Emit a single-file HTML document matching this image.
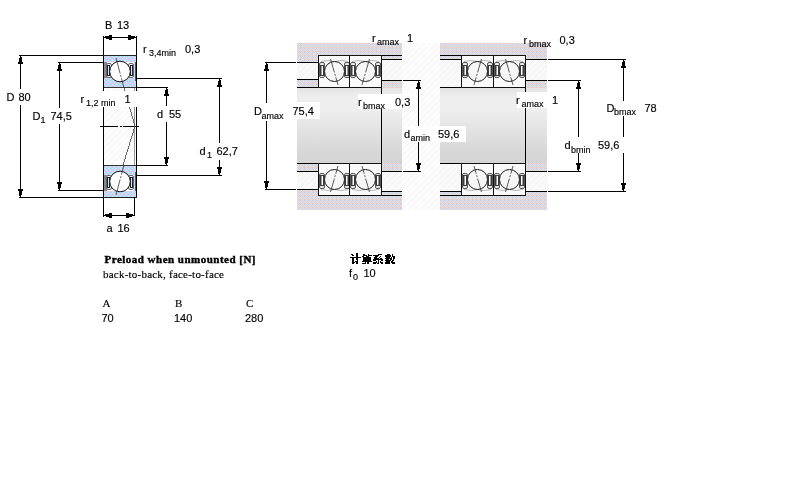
<!DOCTYPE html>
<html><head><meta charset="utf-8"><style>
html,body{margin:0;padding:0;background:#fff;width:800px;height:500px;overflow:hidden}
svg{position:absolute;left:0;top:0}
</style></head><body>
<svg width="800" height="500" viewBox="0 0 800 500" shape-rendering="crispEdges">

<defs>
<pattern id="ring" width="4" height="4" patternUnits="userSpaceOnUse">
  <rect width="4" height="4" fill="#d0d0f6"/>
  <rect x="0" y="0" width="1" height="1" fill="#c0f4f4"/>
  <rect x="2" y="2" width="1" height="1" fill="#c0f4f4"/>
  <rect x="2" y="0" width="1" height="1" fill="#b0d4f4"/>
  <rect x="0" y="2" width="1" height="1" fill="#c8c8f0"/>
</pattern>
<pattern id="gray" width="4" height="4" patternUnits="userSpaceOnUse">
  <rect width="4" height="4" fill="#d6d6d6"/>
  <rect x="1" y="0" width="1" height="1" fill="#e0e0e0"/>
  <rect x="3" y="0" width="1" height="1" fill="#e0e0e0"/>
  <rect x="0" y="1" width="1" height="1" fill="#e0e0e0"/>
  <rect x="2" y="1" width="1" height="1" fill="#e0e0e0"/>
  <rect x="1" y="2" width="1" height="1" fill="#e0e0e0"/>
  <rect x="3" y="2" width="1" height="1" fill="#e0e0e0"/>
  <rect x="2" y="3" width="1" height="1" fill="#e0e0e0"/>
  <rect x="0" y="3" width="1" height="1" fill="#f0c8cc"/>
  <rect x="0" y="0" width="1" height="1" fill="#c8c8f0"/>
</pattern>
<pattern id="light" width="6" height="6" patternUnits="userSpaceOnUse">
  <rect width="6" height="6" fill="#f9f9f9"/>
  <path d="M0 6 L6 0" stroke="#f3f3f3" stroke-width="1"/>
</pattern>
<pattern id="hatch" width="6" height="6" patternUnits="userSpaceOnUse">
  <rect width="6" height="6" fill="#fcfcfc"/>
  <path d="M0 6 L6 0" stroke="#f6f6f6" stroke-width="1"/>
</pattern>
<linearGradient id="shaftg" x1="0" y1="0" x2="0" y2="1">
  <stop offset="0" stop-color="#e4e4e4"/>
  <stop offset="0.12" stop-color="#eeeeee"/>
  <stop offset="0.3" stop-color="#eeeeee"/>
  <stop offset="0.55" stop-color="#e3e3e3"/>
  <stop offset="0.8" stop-color="#d9d9d9"/>
  <stop offset="1" stop-color="#d4d4d4"/>
</linearGradient>
<pattern id="shaft" width="105" height="75" patternUnits="userSpaceOnUse" x="0" y="88">
  <rect width="105" height="75" fill="url(#shaftg)"/>
</pattern>
</defs>

<rect width="800" height="500" fill="#fff"/>
<g>
<rect x="19" y="55" width="85" height="1" fill="#000" />
<rect x="19" y="197" width="85" height="1" fill="#000" />
<rect x="20" y="56" width="1" height="33" fill="#000" />
<rect x="20" y="105" width="1" height="92" fill="#000" />
<rect x="20" y="56" width="1" height="1" fill="#000" />
<rect x="20" y="57" width="2" height="1" fill="#000" />
<rect x="19" y="58" width="3" height="1" fill="#000" />
<rect x="19" y="59" width="3" height="1" fill="#000" />
<rect x="19" y="60" width="3" height="1" fill="#000" />
<rect x="19" y="61" width="3" height="1" fill="#000" />
<rect x="18" y="62" width="5" height="1" fill="#000" />
<rect x="18" y="63" width="5" height="1" fill="#000" />
<rect x="20" y="196" width="1" height="1" fill="#000" />
<rect x="19" y="195" width="2" height="1" fill="#000" />
<rect x="19" y="194" width="3" height="1" fill="#000" />
<rect x="19" y="193" width="3" height="1" fill="#000" />
<rect x="19" y="192" width="3" height="1" fill="#000" />
<rect x="19" y="191" width="3" height="1" fill="#000" />
<rect x="18" y="190" width="5" height="1" fill="#000" />
<rect x="18" y="189" width="5" height="1" fill="#000" />
<rect x="58" y="62" width="46" height="1" fill="#000" />
<rect x="58" y="190" width="46" height="1" fill="#000" />
<rect x="59" y="63" width="1" height="45" fill="#000" />
<rect x="59" y="124" width="1" height="66" fill="#000" />
<rect x="59" y="63" width="1" height="1" fill="#000" />
<rect x="59" y="64" width="2" height="1" fill="#000" />
<rect x="58" y="65" width="3" height="1" fill="#000" />
<rect x="58" y="66" width="3" height="1" fill="#000" />
<rect x="58" y="67" width="3" height="1" fill="#000" />
<rect x="58" y="68" width="3" height="1" fill="#000" />
<rect x="57" y="69" width="5" height="1" fill="#000" />
<rect x="57" y="70" width="5" height="1" fill="#000" />
<rect x="59" y="189" width="1" height="1" fill="#000" />
<rect x="58" y="188" width="2" height="1" fill="#000" />
<rect x="58" y="187" width="3" height="1" fill="#000" />
<rect x="58" y="186" width="3" height="1" fill="#000" />
<rect x="58" y="185" width="3" height="1" fill="#000" />
<rect x="58" y="184" width="3" height="1" fill="#000" />
<rect x="57" y="183" width="5" height="1" fill="#000" />
<rect x="57" y="182" width="5" height="1" fill="#000" />
<rect x="103" y="36" width="1" height="20" fill="#000" />
<rect x="136" y="36" width="1" height="20" fill="#000" />
<rect x="104" y="37" width="32" height="1" fill="#000" />
<rect x="104" y="37" width="1" height="1" fill="#000" />
<rect x="105" y="36" width="1" height="2" fill="#000" />
<rect x="106" y="36" width="3" height="3" fill="#000" />
<rect x="109" y="35" width="3" height="5" fill="#000" />
<rect x="135" y="37" width="1" height="1" fill="#000" />
<rect x="134" y="36" width="1" height="2" fill="#000" />
<rect x="131" y="36" width="3" height="3" fill="#000" />
<rect x="128" y="35" width="3" height="5" fill="#000" />
<rect x="104" y="88" width="32" height="77" fill="url(#hatch)" />
<rect x="103" y="55" width="1" height="162" fill="#000" />
<rect x="136" y="55" width="1" height="143" fill="#000" />
<rect x="134" y="88" width="1" height="78" fill="#999" />
<rect x="104" y="55" width="32" height="33" fill="url(#ring)" />
<g transform="translate(0,55)">
<rect x="105" y="7" width="29" height="16" fill="#fff" />
<rect x="104" y="7" width="3" height="16" fill="#8a8a8a" />
<rect x="106.5" y="8.5" width="5" height="14" rx="1.5" fill="#e8eef8" stroke="#666" stroke-width="1" shape-rendering="auto"/>
<rect x="107" y="10" width="3" height="11" fill="#222"/>
<rect x="108" y="11" width="1" height="9" fill="#cfe6ff"/>
<rect x="128.5" y="8.5" width="5" height="14" rx="1.5" fill="#e8eef8" stroke="#666" stroke-width="1" shape-rendering="auto"/>
<rect x="130" y="10" width="3" height="11" fill="#222"/>
<rect x="131" y="11" width="1" height="9" fill="#cfe6ff"/>
<circle cx="120" cy="16.5" r="10.3" fill="#fff" stroke="#111" stroke-width="1" shape-rendering="auto"/>
<line x1="116" y1="3" x2="124" y2="33" stroke="#333" stroke-width="0.8" stroke-dasharray="16 1.5 2 1.5 20" shape-rendering="auto"/>
</g>
<rect x="104" y="165" width="32" height="33" fill="url(#ring)" />
<g transform="translate(0,198) scale(1,-1)">
<rect x="105" y="7" width="29" height="16" fill="#fff" />
<rect x="104" y="7" width="3" height="16" fill="#8a8a8a" />
<rect x="106.5" y="8.5" width="5" height="14" rx="1.5" fill="#e8eef8" stroke="#666" stroke-width="1" shape-rendering="auto"/>
<rect x="107" y="10" width="3" height="11" fill="#222"/>
<rect x="108" y="11" width="1" height="9" fill="#cfe6ff"/>
<rect x="128.5" y="8.5" width="5" height="14" rx="1.5" fill="#e8eef8" stroke="#666" stroke-width="1" shape-rendering="auto"/>
<rect x="130" y="10" width="3" height="11" fill="#222"/>
<rect x="131" y="11" width="1" height="9" fill="#cfe6ff"/>
<circle cx="120" cy="16.5" r="10.3" fill="#fff" stroke="#111" stroke-width="1" shape-rendering="auto"/>
<line x1="116" y1="3" x2="124" y2="33" stroke="#333" stroke-width="0.8" stroke-dasharray="16 1.5 2 1.5 20" shape-rendering="auto"/>
</g>
<rect x="103" y="55" width="34" height="1" fill="#222" />
<rect x="104" y="87" width="32" height="1" fill="#333" />
<rect x="104" y="165" width="32" height="1" fill="#333" />
<rect x="103" y="197" width="34" height="1" fill="#222" />
<rect x="135" y="62" width="1" height="19" fill="#555" />
<rect x="135" y="172" width="1" height="19" fill="#555" />
<rect x="137" y="78" width="85" height="1" fill="#000" />
<rect x="137" y="175" width="85" height="1" fill="#000" />
<rect x="219" y="79" width="1" height="64" fill="#000" />
<rect x="219" y="160" width="1" height="15" fill="#000" />
<rect x="219" y="79" width="1" height="1" fill="#000" />
<rect x="219" y="80" width="2" height="1" fill="#000" />
<rect x="218" y="81" width="3" height="1" fill="#000" />
<rect x="218" y="82" width="3" height="1" fill="#000" />
<rect x="218" y="83" width="3" height="1" fill="#000" />
<rect x="218" y="84" width="3" height="1" fill="#000" />
<rect x="217" y="85" width="5" height="1" fill="#000" />
<rect x="217" y="86" width="5" height="1" fill="#000" />
<rect x="219" y="174" width="1" height="1" fill="#000" />
<rect x="218" y="173" width="2" height="1" fill="#000" />
<rect x="218" y="172" width="3" height="1" fill="#000" />
<rect x="218" y="171" width="3" height="1" fill="#000" />
<rect x="218" y="170" width="3" height="1" fill="#000" />
<rect x="218" y="169" width="3" height="1" fill="#000" />
<rect x="217" y="168" width="5" height="1" fill="#000" />
<rect x="217" y="167" width="5" height="1" fill="#000" />
<rect x="137" y="87" width="31" height="1" fill="#000" />
<rect x="137" y="165" width="31" height="1" fill="#000" />
<rect x="166" y="88" width="1" height="18" fill="#000" />
<rect x="166" y="122" width="1" height="43" fill="#000" />
<rect x="166" y="88" width="1" height="1" fill="#000" />
<rect x="166" y="89" width="2" height="1" fill="#000" />
<rect x="165" y="90" width="3" height="1" fill="#000" />
<rect x="165" y="91" width="3" height="1" fill="#000" />
<rect x="165" y="92" width="3" height="1" fill="#000" />
<rect x="165" y="93" width="3" height="1" fill="#000" />
<rect x="164" y="94" width="5" height="1" fill="#000" />
<rect x="164" y="95" width="5" height="1" fill="#000" />
<rect x="166" y="164" width="1" height="1" fill="#000" />
<rect x="165" y="163" width="2" height="1" fill="#000" />
<rect x="165" y="162" width="3" height="1" fill="#000" />
<rect x="165" y="161" width="3" height="1" fill="#000" />
<rect x="165" y="160" width="3" height="1" fill="#000" />
<rect x="165" y="159" width="3" height="1" fill="#000" />
<rect x="164" y="158" width="5" height="1" fill="#000" />
<rect x="164" y="157" width="5" height="1" fill="#000" />
<rect x="134" y="197" width="1" height="19" fill="#000" />
<rect x="104" y="215" width="30" height="1" fill="#000" />
<rect x="104" y="215" width="1" height="1" fill="#000" />
<rect x="105" y="214" width="1" height="2" fill="#000" />
<rect x="106" y="214" width="3" height="3" fill="#000" />
<rect x="109" y="213" width="3" height="5" fill="#000" />
<rect x="133" y="215" width="1" height="1" fill="#000" />
<rect x="132" y="214" width="1" height="2" fill="#000" />
<rect x="129" y="214" width="3" height="3" fill="#000" />
<rect x="126" y="213" width="3" height="5" fill="#000" />
<line x1="100" y1="126.5" x2="139" y2="126.5" stroke="#000" stroke-width="1" stroke-dasharray="18 1.5 2 1.5 30"/>
<path d="M124 88 L135 126 L123 165" fill="none" stroke="#444" stroke-width="0.8"/>
<rect x="297" y="43" width="105" height="19" fill="url(#gray)" />
<rect x="297" y="62" width="21" height="18" fill="url(#light)" />
<rect x="297" y="80" width="21" height="8" fill="url(#gray)" />
<rect x="381" y="55" width="21" height="4" fill="url(#gray)" />
<rect x="381" y="59" width="21" height="21" fill="url(#light)" />
<rect x="297" y="88" width="105" height="75" fill="url(#shaft)" />
<rect x="381" y="80" width="21" height="8" fill="url(#gray)" />
<rect x="297" y="163" width="21" height="8" fill="url(#gray)" />
<rect x="297" y="171" width="21" height="18" fill="url(#light)" />
<rect x="297" y="189" width="105" height="21" fill="url(#gray)" />
<rect x="381" y="171" width="21" height="20" fill="url(#light)" />
<rect x="381" y="191" width="21" height="4" fill="url(#gray)" />
<rect x="381" y="163" width="21" height="8" fill="url(#gray)" />
<rect x="297" y="62" width="22" height="1" fill="#000" />
<rect x="297" y="79" width="22" height="1" fill="#000" />
<rect x="297" y="87" width="22" height="1" fill="#000" />
<rect x="381" y="55" width="21" height="1" fill="#000" />
<rect x="381" y="59" width="21" height="1" fill="#000" />
<rect x="381" y="80" width="21" height="1" fill="#000" />
<rect x="297" y="163" width="22" height="1" fill="#000" />
<rect x="297" y="171" width="22" height="1" fill="#000" />
<rect x="297" y="189" width="22" height="1" fill="#000" />
<rect x="381" y="171" width="21" height="1" fill="#000" />
<rect x="381" y="191" width="21" height="1" fill="#000" />
<rect x="381" y="195" width="21" height="1" fill="#000" />
<rect x="381" y="87" width="1" height="77" fill="#000" />
<g transform="translate(318,55)">
<rect x="0" y="0" width="33" height="33" fill="#fafafa"/>
<path d="M3 6.5 Q10 4.5 16.5 6.5 Q23 4.5 30 6.5" fill="none" stroke="#9a9a9a" stroke-width="0.7" shape-rendering="auto"/>
<rect x="1.5" y="7.5" width="5" height="15" rx="1.5" fill="#e6e6e6" stroke="#555" stroke-width="1" shape-rendering="auto"/>
<rect x="2" y="10" width="4" height="11" fill="#3a3a3a"/>
<rect x="3.5" y="11" width="1.5" height="9" fill="#fff" shape-rendering="auto"/>
<rect x="26.5" y="7.5" width="5" height="15" rx="1.5" fill="#e6e6e6" stroke="#555" stroke-width="1" shape-rendering="auto"/>
<rect x="27" y="10" width="4" height="11" fill="#3a3a3a"/>
<rect x="28" y="11" width="1.5" height="9" fill="#fff" shape-rendering="auto"/>
<circle cx="16.5" cy="16.5" r="10" fill="#f6f6f6" stroke="#1a1a1a" stroke-width="1" shape-rendering="auto"/>
<path d="M12.5 4 L20 30" stroke="#333" stroke-width="0.8" stroke-dasharray="14 1.5 2 1.5 20" shape-rendering="auto"/>
<rect x="0" y="0" width="33" height="1" fill="#111"/>
<rect x="0" y="32" width="33" height="1" fill="#111"/>
<rect x="0" y="0" width="1" height="33" fill="#111"/>
<rect x="32" y="0" width="1" height="33" fill="#111"/>
</g>
<g transform="translate(349,55)">
<rect x="0" y="0" width="33" height="33" fill="#fafafa"/>
<path d="M3 6.5 Q10 4.5 16.5 6.5 Q23 4.5 30 6.5" fill="none" stroke="#9a9a9a" stroke-width="0.7" shape-rendering="auto"/>
<rect x="1.5" y="7.5" width="5" height="15" rx="1.5" fill="#e6e6e6" stroke="#555" stroke-width="1" shape-rendering="auto"/>
<rect x="2" y="10" width="4" height="11" fill="#3a3a3a"/>
<rect x="3.5" y="11" width="1.5" height="9" fill="#fff" shape-rendering="auto"/>
<rect x="26.5" y="7.5" width="5" height="15" rx="1.5" fill="#e6e6e6" stroke="#555" stroke-width="1" shape-rendering="auto"/>
<rect x="27" y="10" width="4" height="11" fill="#3a3a3a"/>
<rect x="28" y="11" width="1.5" height="9" fill="#fff" shape-rendering="auto"/>
<circle cx="16.5" cy="16.5" r="10" fill="#f6f6f6" stroke="#1a1a1a" stroke-width="1" shape-rendering="auto"/>
<path d="M20.5 4 L13 30" stroke="#333" stroke-width="0.8" stroke-dasharray="14 1.5 2 1.5 20" shape-rendering="auto"/>
<rect x="0" y="0" width="33" height="1" fill="#111"/>
<rect x="0" y="32" width="33" height="1" fill="#111"/>
<rect x="0" y="0" width="1" height="33" fill="#111"/>
<rect x="32" y="0" width="1" height="33" fill="#111"/>
</g>
<g transform="translate(318,196) scale(1,-1)">
<rect x="0" y="0" width="33" height="33" fill="#fafafa"/>
<path d="M3 6.5 Q10 4.5 16.5 6.5 Q23 4.5 30 6.5" fill="none" stroke="#9a9a9a" stroke-width="0.7" shape-rendering="auto"/>
<rect x="1.5" y="7.5" width="5" height="15" rx="1.5" fill="#e6e6e6" stroke="#555" stroke-width="1" shape-rendering="auto"/>
<rect x="2" y="10" width="4" height="11" fill="#3a3a3a"/>
<rect x="3.5" y="11" width="1.5" height="9" fill="#fff" shape-rendering="auto"/>
<rect x="26.5" y="7.5" width="5" height="15" rx="1.5" fill="#e6e6e6" stroke="#555" stroke-width="1" shape-rendering="auto"/>
<rect x="27" y="10" width="4" height="11" fill="#3a3a3a"/>
<rect x="28" y="11" width="1.5" height="9" fill="#fff" shape-rendering="auto"/>
<circle cx="16.5" cy="16.5" r="10" fill="#f6f6f6" stroke="#1a1a1a" stroke-width="1" shape-rendering="auto"/>
<path d="M12.5 4 L20 30" stroke="#333" stroke-width="0.8" stroke-dasharray="14 1.5 2 1.5 20" shape-rendering="auto"/>
<rect x="0" y="0" width="33" height="1" fill="#111"/>
<rect x="0" y="32" width="33" height="1" fill="#111"/>
<rect x="0" y="0" width="1" height="33" fill="#111"/>
<rect x="32" y="0" width="1" height="33" fill="#111"/>
</g>
<g transform="translate(349,196) scale(1,-1)">
<rect x="0" y="0" width="33" height="33" fill="#fafafa"/>
<path d="M3 6.5 Q10 4.5 16.5 6.5 Q23 4.5 30 6.5" fill="none" stroke="#9a9a9a" stroke-width="0.7" shape-rendering="auto"/>
<rect x="1.5" y="7.5" width="5" height="15" rx="1.5" fill="#e6e6e6" stroke="#555" stroke-width="1" shape-rendering="auto"/>
<rect x="2" y="10" width="4" height="11" fill="#3a3a3a"/>
<rect x="3.5" y="11" width="1.5" height="9" fill="#fff" shape-rendering="auto"/>
<rect x="26.5" y="7.5" width="5" height="15" rx="1.5" fill="#e6e6e6" stroke="#555" stroke-width="1" shape-rendering="auto"/>
<rect x="27" y="10" width="4" height="11" fill="#3a3a3a"/>
<rect x="28" y="11" width="1.5" height="9" fill="#fff" shape-rendering="auto"/>
<circle cx="16.5" cy="16.5" r="10" fill="#f6f6f6" stroke="#1a1a1a" stroke-width="1" shape-rendering="auto"/>
<path d="M20.5 4 L13 30" stroke="#333" stroke-width="0.8" stroke-dasharray="14 1.5 2 1.5 20" shape-rendering="auto"/>
<rect x="0" y="0" width="33" height="1" fill="#111"/>
<rect x="0" y="32" width="33" height="1" fill="#111"/>
<rect x="0" y="0" width="1" height="33" fill="#111"/>
<rect x="32" y="0" width="1" height="33" fill="#111"/>
</g>
<rect x="402" y="43" width="38" height="167" fill="url(#hatch)" />
<rect x="440" y="43" width="107" height="12" fill="url(#gray)" />
<rect x="440" y="55" width="21" height="4" fill="url(#gray)" />
<rect x="440" y="59" width="21" height="28" fill="url(#light)" />
<rect x="525" y="43" width="22" height="16" fill="url(#gray)" />
<rect x="525" y="59" width="22" height="21" fill="url(#light)" />
<rect x="525" y="80" width="22" height="8" fill="url(#gray)" />
<rect x="440" y="88" width="107" height="75" fill="url(#shaft)" />
<rect x="440" y="163" width="21" height="28" fill="url(#light)" />
<rect x="440" y="191" width="21" height="4" fill="url(#gray)" />
<rect x="440" y="195" width="107" height="15" fill="url(#gray)" />
<rect x="525" y="163" width="22" height="8" fill="url(#gray)" />
<rect x="525" y="171" width="22" height="20" fill="url(#light)" />
<rect x="525" y="191" width="22" height="4" fill="url(#gray)" />
<rect x="440" y="55" width="22" height="1" fill="#000" />
<rect x="440" y="59" width="22" height="1" fill="#000" />
<rect x="440" y="87" width="86" height="1" fill="#000" />
<rect x="525" y="59" width="22" height="1" fill="#000" />
<rect x="525" y="80" width="22" height="1" fill="#000" />
<rect x="440" y="163" width="86" height="1" fill="#000" />
<rect x="440" y="191" width="22" height="1" fill="#000" />
<rect x="440" y="195" width="22" height="1" fill="#000" />
<rect x="525" y="171" width="22" height="1" fill="#000" />
<rect x="525" y="191" width="22" height="1" fill="#000" />
<rect x="525" y="87" width="1" height="77" fill="#000" />
<g transform="translate(461,55)">
<rect x="0" y="0" width="33" height="33" fill="#fafafa"/>
<path d="M3 6.5 Q10 4.5 16.5 6.5 Q23 4.5 30 6.5" fill="none" stroke="#9a9a9a" stroke-width="0.7" shape-rendering="auto"/>
<rect x="1.5" y="7.5" width="5" height="15" rx="1.5" fill="#e6e6e6" stroke="#555" stroke-width="1" shape-rendering="auto"/>
<rect x="2" y="10" width="4" height="11" fill="#3a3a3a"/>
<rect x="3.5" y="11" width="1.5" height="9" fill="#fff" shape-rendering="auto"/>
<rect x="26.5" y="7.5" width="5" height="15" rx="1.5" fill="#e6e6e6" stroke="#555" stroke-width="1" shape-rendering="auto"/>
<rect x="27" y="10" width="4" height="11" fill="#3a3a3a"/>
<rect x="28" y="11" width="1.5" height="9" fill="#fff" shape-rendering="auto"/>
<circle cx="16.5" cy="16.5" r="10" fill="#f6f6f6" stroke="#1a1a1a" stroke-width="1" shape-rendering="auto"/>
<path d="M20.5 4 L13 30" stroke="#333" stroke-width="0.8" stroke-dasharray="14 1.5 2 1.5 20" shape-rendering="auto"/>
<rect x="0" y="0" width="33" height="1" fill="#111"/>
<rect x="0" y="32" width="33" height="1" fill="#111"/>
<rect x="0" y="0" width="1" height="33" fill="#111"/>
<rect x="32" y="0" width="1" height="33" fill="#111"/>
</g>
<g transform="translate(493,55)">
<rect x="0" y="0" width="33" height="33" fill="#fafafa"/>
<path d="M3 6.5 Q10 4.5 16.5 6.5 Q23 4.5 30 6.5" fill="none" stroke="#9a9a9a" stroke-width="0.7" shape-rendering="auto"/>
<rect x="1.5" y="7.5" width="5" height="15" rx="1.5" fill="#e6e6e6" stroke="#555" stroke-width="1" shape-rendering="auto"/>
<rect x="2" y="10" width="4" height="11" fill="#3a3a3a"/>
<rect x="3.5" y="11" width="1.5" height="9" fill="#fff" shape-rendering="auto"/>
<rect x="26.5" y="7.5" width="5" height="15" rx="1.5" fill="#e6e6e6" stroke="#555" stroke-width="1" shape-rendering="auto"/>
<rect x="27" y="10" width="4" height="11" fill="#3a3a3a"/>
<rect x="28" y="11" width="1.5" height="9" fill="#fff" shape-rendering="auto"/>
<circle cx="16.5" cy="16.5" r="10" fill="#f6f6f6" stroke="#1a1a1a" stroke-width="1" shape-rendering="auto"/>
<path d="M12.5 4 L20 30" stroke="#333" stroke-width="0.8" stroke-dasharray="14 1.5 2 1.5 20" shape-rendering="auto"/>
<rect x="0" y="0" width="33" height="1" fill="#111"/>
<rect x="0" y="32" width="33" height="1" fill="#111"/>
<rect x="0" y="0" width="1" height="33" fill="#111"/>
<rect x="32" y="0" width="1" height="33" fill="#111"/>
</g>
<g transform="translate(461,196) scale(1,-1)">
<rect x="0" y="0" width="33" height="33" fill="#fafafa"/>
<path d="M3 6.5 Q10 4.5 16.5 6.5 Q23 4.5 30 6.5" fill="none" stroke="#9a9a9a" stroke-width="0.7" shape-rendering="auto"/>
<rect x="1.5" y="7.5" width="5" height="15" rx="1.5" fill="#e6e6e6" stroke="#555" stroke-width="1" shape-rendering="auto"/>
<rect x="2" y="10" width="4" height="11" fill="#3a3a3a"/>
<rect x="3.5" y="11" width="1.5" height="9" fill="#fff" shape-rendering="auto"/>
<rect x="26.5" y="7.5" width="5" height="15" rx="1.5" fill="#e6e6e6" stroke="#555" stroke-width="1" shape-rendering="auto"/>
<rect x="27" y="10" width="4" height="11" fill="#3a3a3a"/>
<rect x="28" y="11" width="1.5" height="9" fill="#fff" shape-rendering="auto"/>
<circle cx="16.5" cy="16.5" r="10" fill="#f6f6f6" stroke="#1a1a1a" stroke-width="1" shape-rendering="auto"/>
<path d="M20.5 4 L13 30" stroke="#333" stroke-width="0.8" stroke-dasharray="14 1.5 2 1.5 20" shape-rendering="auto"/>
<rect x="0" y="0" width="33" height="1" fill="#111"/>
<rect x="0" y="32" width="33" height="1" fill="#111"/>
<rect x="0" y="0" width="1" height="33" fill="#111"/>
<rect x="32" y="0" width="1" height="33" fill="#111"/>
</g>
<g transform="translate(493,196) scale(1,-1)">
<rect x="0" y="0" width="33" height="33" fill="#fafafa"/>
<path d="M3 6.5 Q10 4.5 16.5 6.5 Q23 4.5 30 6.5" fill="none" stroke="#9a9a9a" stroke-width="0.7" shape-rendering="auto"/>
<rect x="1.5" y="7.5" width="5" height="15" rx="1.5" fill="#e6e6e6" stroke="#555" stroke-width="1" shape-rendering="auto"/>
<rect x="2" y="10" width="4" height="11" fill="#3a3a3a"/>
<rect x="3.5" y="11" width="1.5" height="9" fill="#fff" shape-rendering="auto"/>
<rect x="26.5" y="7.5" width="5" height="15" rx="1.5" fill="#e6e6e6" stroke="#555" stroke-width="1" shape-rendering="auto"/>
<rect x="27" y="10" width="4" height="11" fill="#3a3a3a"/>
<rect x="28" y="11" width="1.5" height="9" fill="#fff" shape-rendering="auto"/>
<circle cx="16.5" cy="16.5" r="10" fill="#f6f6f6" stroke="#1a1a1a" stroke-width="1" shape-rendering="auto"/>
<path d="M12.5 4 L20 30" stroke="#333" stroke-width="0.8" stroke-dasharray="14 1.5 2 1.5 20" shape-rendering="auto"/>
<rect x="0" y="0" width="33" height="1" fill="#111"/>
<rect x="0" y="32" width="33" height="1" fill="#111"/>
<rect x="0" y="0" width="1" height="33" fill="#111"/>
<rect x="32" y="0" width="1" height="33" fill="#111"/>
</g>
<rect x="265" y="62" width="31" height="1" fill="#000" />
<rect x="266" y="63" width="1" height="40" fill="#000" />
<rect x="266" y="119" width="1" height="70" fill="#000" />
<rect x="266" y="63" width="1" height="1" fill="#000" />
<rect x="266" y="64" width="2" height="1" fill="#000" />
<rect x="265" y="65" width="3" height="1" fill="#000" />
<rect x="265" y="66" width="3" height="1" fill="#000" />
<rect x="265" y="67" width="3" height="1" fill="#000" />
<rect x="265" y="68" width="3" height="1" fill="#000" />
<rect x="264" y="69" width="5" height="1" fill="#000" />
<rect x="264" y="70" width="5" height="1" fill="#000" />
<rect x="266" y="188" width="1" height="1" fill="#000" />
<rect x="265" y="187" width="2" height="1" fill="#000" />
<rect x="265" y="186" width="3" height="1" fill="#000" />
<rect x="265" y="185" width="3" height="1" fill="#000" />
<rect x="265" y="184" width="3" height="1" fill="#000" />
<rect x="265" y="183" width="3" height="1" fill="#000" />
<rect x="264" y="182" width="5" height="1" fill="#000" />
<rect x="264" y="181" width="5" height="1" fill="#000" />
<rect x="265" y="189" width="31" height="1" fill="#000" />
<rect x="403" y="80" width="18" height="1" fill="#000" />
<rect x="403" y="171" width="18" height="1" fill="#000" />
<rect x="418" y="81" width="1" height="90" fill="#000" />
<rect x="418" y="81" width="1" height="1" fill="#000" />
<rect x="418" y="82" width="2" height="1" fill="#000" />
<rect x="417" y="83" width="3" height="1" fill="#000" />
<rect x="417" y="84" width="3" height="1" fill="#000" />
<rect x="417" y="85" width="3" height="1" fill="#000" />
<rect x="417" y="86" width="3" height="1" fill="#000" />
<rect x="416" y="87" width="5" height="1" fill="#000" />
<rect x="416" y="88" width="5" height="1" fill="#000" />
<rect x="418" y="170" width="1" height="1" fill="#000" />
<rect x="417" y="169" width="2" height="1" fill="#000" />
<rect x="417" y="168" width="3" height="1" fill="#000" />
<rect x="417" y="167" width="3" height="1" fill="#000" />
<rect x="417" y="166" width="3" height="1" fill="#000" />
<rect x="417" y="165" width="3" height="1" fill="#000" />
<rect x="416" y="164" width="5" height="1" fill="#000" />
<rect x="416" y="163" width="5" height="1" fill="#000" />
<rect x="548" y="59" width="78" height="1" fill="#000" />
<rect x="548" y="191" width="78" height="1" fill="#000" />
<rect x="623" y="60" width="1" height="41" fill="#000" />
<rect x="623" y="116" width="1" height="21" fill="#000" />
<rect x="623" y="153" width="1" height="38" fill="#000" />
<rect x="623" y="60" width="1" height="1" fill="#000" />
<rect x="623" y="61" width="2" height="1" fill="#000" />
<rect x="622" y="62" width="3" height="1" fill="#000" />
<rect x="622" y="63" width="3" height="1" fill="#000" />
<rect x="622" y="64" width="3" height="1" fill="#000" />
<rect x="622" y="65" width="3" height="1" fill="#000" />
<rect x="621" y="66" width="5" height="1" fill="#000" />
<rect x="621" y="67" width="5" height="1" fill="#000" />
<rect x="623" y="190" width="1" height="1" fill="#000" />
<rect x="622" y="189" width="2" height="1" fill="#000" />
<rect x="622" y="188" width="3" height="1" fill="#000" />
<rect x="622" y="187" width="3" height="1" fill="#000" />
<rect x="622" y="186" width="3" height="1" fill="#000" />
<rect x="622" y="185" width="3" height="1" fill="#000" />
<rect x="621" y="184" width="5" height="1" fill="#000" />
<rect x="621" y="183" width="5" height="1" fill="#000" />
<rect x="548" y="80" width="33" height="1" fill="#000" />
<rect x="548" y="171" width="33" height="1" fill="#000" />
<rect x="578" y="81" width="1" height="56" fill="#000" />
<rect x="578" y="153" width="1" height="18" fill="#000" />
<rect x="578" y="81" width="1" height="1" fill="#000" />
<rect x="578" y="82" width="2" height="1" fill="#000" />
<rect x="577" y="83" width="3" height="1" fill="#000" />
<rect x="577" y="84" width="3" height="1" fill="#000" />
<rect x="577" y="85" width="3" height="1" fill="#000" />
<rect x="577" y="86" width="3" height="1" fill="#000" />
<rect x="576" y="87" width="5" height="1" fill="#000" />
<rect x="576" y="88" width="5" height="1" fill="#000" />
<rect x="578" y="170" width="1" height="1" fill="#000" />
<rect x="577" y="169" width="2" height="1" fill="#000" />
<rect x="577" y="168" width="3" height="1" fill="#000" />
<rect x="577" y="167" width="3" height="1" fill="#000" />
<rect x="577" y="166" width="3" height="1" fill="#000" />
<rect x="577" y="165" width="3" height="1" fill="#000" />
<rect x="576" y="164" width="5" height="1" fill="#000" />
<rect x="576" y="163" width="5" height="1" fill="#000" />
<rect x="290" y="102" width="30" height="17" fill="#fff" />
<rect x="358" y="94" width="58" height="15" fill="#fff" />
<rect x="402" y="126" width="64" height="16" fill="#fff" />
<rect x="517" y="92" width="48" height="16" fill="#fff" />
<rect x="250" y="104" width="36" height="17" fill="#fff" />
<rect x="78" y="91" width="62" height="16" fill="#fff" />
<rect x="356" y="253" width="2" height="1" fill="#000" />
<rect x="351" y="254" width="2" height="1" fill="#000" />
<rect x="356" y="254" width="2" height="1" fill="#000" />
<rect x="363" y="254" width="2" height="1" fill="#000" />
<rect x="368" y="254" width="1" height="1" fill="#000" />
<rect x="378" y="254" width="4" height="1" fill="#000" />
<rect x="387" y="254" width="3" height="1" fill="#000" />
<rect x="392" y="254" width="1" height="1" fill="#000" />
<rect x="352" y="255" width="2" height="1" fill="#000" />
<rect x="356" y="255" width="2" height="1" fill="#000" />
<rect x="363" y="255" width="4" height="1" fill="#000" />
<rect x="368" y="255" width="4" height="1" fill="#000" />
<rect x="373" y="255" width="6" height="1" fill="#000" />
<rect x="385" y="255" width="6" height="1" fill="#000" />
<rect x="392" y="255" width="1" height="1" fill="#000" />
<rect x="356" y="256" width="2" height="1" fill="#000" />
<rect x="362" y="256" width="2" height="1" fill="#000" />
<rect x="366" y="256" width="3" height="1" fill="#000" />
<rect x="375" y="256" width="3" height="1" fill="#000" />
<rect x="380" y="256" width="1" height="1" fill="#000" />
<rect x="385" y="256" width="6" height="1" fill="#000" />
<rect x="392" y="256" width="3" height="1" fill="#000" />
<rect x="350" y="257" width="11" height="1" fill="#000" />
<rect x="363" y="257" width="8" height="1" fill="#000" />
<rect x="374" y="257" width="3" height="1" fill="#000" />
<rect x="379" y="257" width="1" height="1" fill="#000" />
<rect x="386" y="257" width="4" height="1" fill="#000" />
<rect x="391" y="257" width="1" height="1" fill="#000" />
<rect x="393" y="257" width="2" height="1" fill="#000" />
<rect x="352" y="258" width="2" height="1" fill="#000" />
<rect x="356" y="258" width="2" height="1" fill="#000" />
<rect x="363" y="258" width="8" height="1" fill="#000" />
<rect x="374" y="258" width="5" height="1" fill="#000" />
<rect x="380" y="258" width="2" height="1" fill="#000" />
<rect x="385" y="258" width="7" height="1" fill="#000" />
<rect x="393" y="258" width="2" height="1" fill="#000" />
<rect x="352" y="259" width="2" height="1" fill="#000" />
<rect x="356" y="259" width="2" height="1" fill="#000" />
<rect x="363" y="259" width="8" height="1" fill="#000" />
<rect x="373" y="259" width="4" height="1" fill="#000" />
<rect x="377" y="259" width="6" height="1" fill="#000" />
<rect x="386" y="259" width="3" height="1" fill="#000" />
<rect x="390" y="259" width="2" height="1" fill="#000" />
<rect x="393" y="259" width="1" height="1" fill="#000" />
<rect x="352" y="260" width="2" height="1" fill="#000" />
<rect x="357" y="260" width="1" height="1" fill="#000" />
<rect x="363" y="260" width="8" height="1" fill="#000" />
<rect x="373" y="260" width="3" height="1" fill="#000" />
<rect x="378" y="260" width="1" height="1" fill="#000" />
<rect x="381" y="260" width="2" height="1" fill="#000" />
<rect x="385" y="260" width="6" height="1" fill="#000" />
<rect x="392" y="260" width="2" height="1" fill="#000" />
<rect x="352" y="261" width="2" height="1" fill="#000" />
<rect x="355" y="261" width="3" height="1" fill="#000" />
<rect x="362" y="261" width="10" height="1" fill="#000" />
<rect x="376" y="261" width="1" height="1" fill="#000" />
<rect x="378" y="261" width="1" height="1" fill="#000" />
<rect x="380" y="261" width="1" height="1" fill="#000" />
<rect x="386" y="261" width="4" height="1" fill="#000" />
<rect x="391" y="261" width="2" height="1" fill="#000" />
<rect x="352" y="262" width="3" height="1" fill="#000" />
<rect x="356" y="262" width="2" height="1" fill="#000" />
<rect x="365" y="262" width="1" height="1" fill="#000" />
<rect x="367" y="262" width="2" height="1" fill="#000" />
<rect x="373" y="262" width="4" height="1" fill="#000" />
<rect x="378" y="262" width="1" height="1" fill="#000" />
<rect x="380" y="262" width="3" height="1" fill="#000" />
<rect x="385" y="262" width="5" height="1" fill="#000" />
<rect x="391" y="262" width="4" height="1" fill="#000" />
<rect x="352" y="263" width="2" height="1" fill="#000" />
<rect x="356" y="263" width="2" height="1" fill="#000" />
<rect x="362" y="263" width="4" height="1" fill="#000" />
<rect x="367" y="263" width="2" height="1" fill="#000" />
<rect x="373" y="263" width="3" height="1" fill="#000" />
<rect x="377" y="263" width="2" height="1" fill="#000" />
<rect x="381" y="263" width="2" height="1" fill="#000" />
<rect x="385" y="263" width="5" height="1" fill="#000" />
<rect x="392" y="263" width="3" height="1" fill="#000" />
</g>
<g fill="#000" shape-rendering="auto" style="filter:grayscale(1)" stroke="#000" stroke-width="0.15">
<text x="105" y="29" font-family="Liberation Sans" font-size="11" font-weight="normal" >B</text>
<text x="117" y="29" font-family="Liberation Sans" font-size="11" font-weight="normal" >13</text>
<text x="143" y="53" font-family="Liberation Sans" font-size="11" font-weight="normal" >r</text>
<text x="149" y="56" font-family="Liberation Sans" font-size="9" font-weight="normal" >3,4min</text>
<text x="185" y="53" font-family="Liberation Sans" font-size="11" font-weight="normal" >0,3</text>
<text x="6.5" y="101" font-family="Liberation Sans" font-size="11" font-weight="normal" >D</text>
<text x="18.5" y="101" font-family="Liberation Sans" font-size="11" font-weight="normal" >80</text>
<text x="32.5" y="120" font-family="Liberation Sans" font-size="11" font-weight="normal" >D</text>
<text x="40.5" y="123" font-family="Liberation Sans" font-size="9" font-weight="normal" >1</text>
<text x="50.5" y="120" font-family="Liberation Sans" font-size="11" font-weight="normal" >74,5</text>
<text x="80.5" y="103" font-family="Liberation Sans" font-size="11" font-weight="normal" >r</text>
<text x="86" y="106" font-family="Liberation Sans" font-size="9" font-weight="normal" >1,2 min</text>
<text x="124.5" y="102.5" font-family="Liberation Sans" font-size="11" font-weight="normal" >1</text>
<text x="157" y="118" font-family="Liberation Sans" font-size="11" font-weight="normal" >d</text>
<text x="169" y="118" font-family="Liberation Sans" font-size="11" font-weight="normal" >55</text>
<text x="199.5" y="155" font-family="Liberation Sans" font-size="11" font-weight="normal" >d</text>
<text x="207" y="158" font-family="Liberation Sans" font-size="9" font-weight="normal" >1</text>
<text x="216.5" y="155" font-family="Liberation Sans" font-size="11" font-weight="normal" >62,7</text>
<text x="106.5" y="231.5" font-family="Liberation Sans" font-size="11" font-weight="normal" >a</text>
<text x="117.5" y="231.5" font-family="Liberation Sans" font-size="11" font-weight="normal" >16</text>
<text x="372" y="42" font-family="Liberation Sans" font-size="11" font-weight="normal" >r</text>
<text x="377" y="45" font-family="Liberation Sans" font-size="9" font-weight="normal" >amax</text>
<text x="407" y="42" font-family="Liberation Sans" font-size="11" font-weight="normal" >1</text>
<text x="254" y="115" font-family="Liberation Sans" font-size="11" font-weight="normal" >D</text>
<text x="261.5" y="119" font-family="Liberation Sans" font-size="9" font-weight="normal" >amax</text>
<text x="292.5" y="115" font-family="Liberation Sans" font-size="11" font-weight="normal" >75,4</text>
<text x="358" y="106" font-family="Liberation Sans" font-size="11" font-weight="normal" >r</text>
<text x="363" y="109" font-family="Liberation Sans" font-size="9" font-weight="normal" >bmax</text>
<text x="395" y="106" font-family="Liberation Sans" font-size="11" font-weight="normal" >0,3</text>
<text x="404" y="138" font-family="Liberation Sans" font-size="11" font-weight="normal" >d</text>
<text x="410.5" y="141" font-family="Liberation Sans" font-size="9" font-weight="normal" >amin</text>
<text x="438" y="138" font-family="Liberation Sans" font-size="11" font-weight="normal" >59,6</text>
<text x="523.5" y="43.5" font-family="Liberation Sans" font-size="11" font-weight="normal" >r</text>
<text x="529" y="47" font-family="Liberation Sans" font-size="9" font-weight="normal" >bmax</text>
<text x="559.5" y="43.5" font-family="Liberation Sans" font-size="11" font-weight="normal" >0,3</text>
<text x="516" y="104" font-family="Liberation Sans" font-size="11" font-weight="normal" >r</text>
<text x="521.5" y="107" font-family="Liberation Sans" font-size="9" font-weight="normal" >amax</text>
<text x="552" y="104" font-family="Liberation Sans" font-size="11" font-weight="normal" >1</text>
<text x="606.5" y="112" font-family="Liberation Sans" font-size="11" font-weight="normal" >D</text>
<text x="614" y="115" font-family="Liberation Sans" font-size="9" font-weight="normal" >bmax</text>
<text x="644.5" y="112" font-family="Liberation Sans" font-size="11" font-weight="normal" >78</text>
<text x="564.5" y="149" font-family="Liberation Sans" font-size="11" font-weight="normal" >d</text>
<text x="571" y="153" font-family="Liberation Sans" font-size="9" font-weight="normal" >bmin</text>
<text x="598" y="149" font-family="Liberation Sans" font-size="11" font-weight="normal" >59,6</text>
<text x="104.5" y="263" font-family="Liberation Serif" font-size="11" font-weight="bold" textLength="151" lengthAdjust="spacing" stroke-width="0.4">Preload when unmounted [N]</text>
<text x="103" y="277.5" font-family="Liberation Serif" font-size="11" font-weight="normal" textLength="121" lengthAdjust="spacing">back-to-back, face-to-face</text>
<text x="102.5" y="306.5" font-family="Liberation Serif" font-size="11" font-weight="normal" >A</text>
<text x="175" y="306.5" font-family="Liberation Serif" font-size="11" font-weight="normal" >B</text>
<text x="246" y="306.5" font-family="Liberation Serif" font-size="11" font-weight="normal" >C</text>
<text x="101.5" y="322" font-family="Liberation Sans" font-size="11" font-weight="normal" >70</text>
<text x="174" y="322" font-family="Liberation Sans" font-size="11" font-weight="normal" >140</text>
<text x="245" y="322" font-family="Liberation Sans" font-size="11" font-weight="normal" >280</text>
<text x="349" y="277" font-family="Liberation Sans" font-size="11" font-weight="normal" >f</text>
<text x="353" y="280" font-family="Liberation Sans" font-size="9" font-weight="normal" >0</text>
<text x="363.5" y="277" font-family="Liberation Sans" font-size="11" font-weight="normal" >10</text>
</g>
</svg>
</body></html>
